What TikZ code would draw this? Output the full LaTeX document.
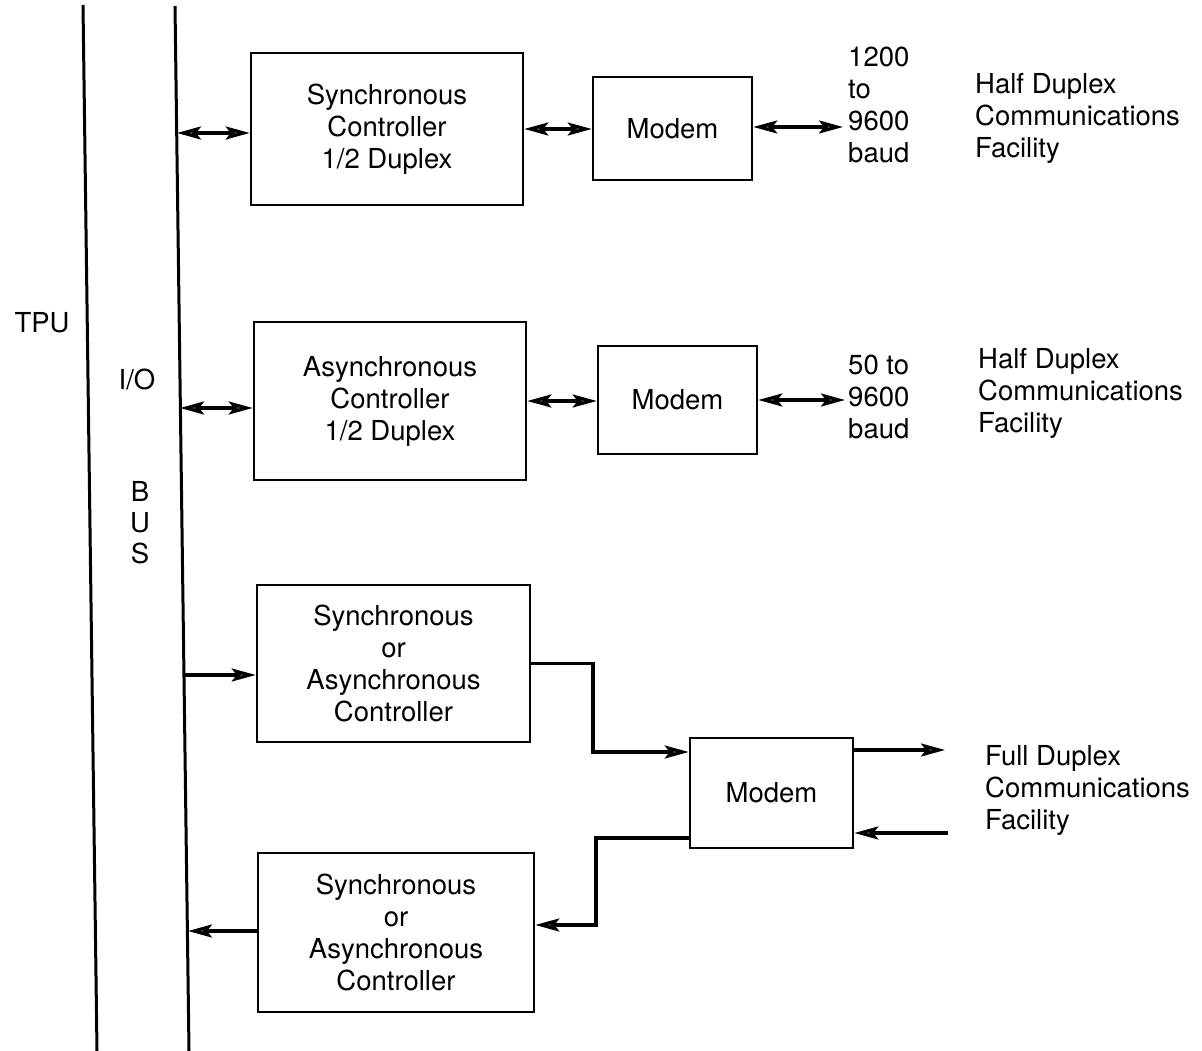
\documentclass[tikz,border=0pt]{standalone}
\usepackage{fontspec}
\setmainfont{TeX Gyre Heros}
\usetikzlibrary{arrows.meta,calc}
\begin{document}
\begin{tikzpicture}[x=1pt,y=-1pt,
  every node/.style={font=\fontsize{27.5}{32}\selectfont},
  box/.style={draw, line width=2.6pt, rectangle, align=center, inner sep=0pt},
  conn/.style={line width=3.2pt},
  arr/.tip={Stealth[length=24pt,width=13pt,inset=5pt,fill=black!50]},
  tip/.style={-arr},
  dtip/.style={arr-arr},
  lbl/.style={align=left, anchor=west, inner sep=0pt},
  bus/.style={line width=3pt}
]
\useasboundingbox (0,0) rectangle (1202,1051);
% vertical lines
\coordinate (tt) at (83,5);
\coordinate (tb) at (97,1051);
\coordinate (bt) at (175,6);
\coordinate (bb) at (189,1051);
\draw[bus] (tt) -- (tb);
\draw[bus] (bt) -- (bb);
% labels on left
\node (tpu) at (42,323) {TPU};
\node (io) at (137,380) {I/O};
\node[align=center, inner sep=0pt, font=\fontsize{27.5}{31}\selectfont] (busl) at (140,523) {B\\U\\S};
% boxes
\node[box, minimum width=272pt, minimum height=152pt] (s1) at (387,129) {Synchronous\\Controller\\1/2 Duplex};
\node[box, minimum width=159pt, minimum height=103pt] (m1) at (672.5,128.5) {Modem};
\node[box, minimum width=272pt, minimum height=158pt] (s2) at (390,401) {Asynchronous\\Controller\\1/2 Duplex};
\node[box, minimum width=159pt, minimum height=108pt] (m2) at (677.5,400) {Modem};
\node[box, minimum width=273pt, minimum height=157pt] (s3) at (393.5,663.5) {Synchronous\\or\\Asynchronous\\Controller};
\node[box, minimum width=163pt, minimum height=110pt] (m3) at (771.5,793) {Modem};
\node[box, minimum width=276pt, minimum height=159pt] (s4) at (396,932.5) {Synchronous\\or\\Asynchronous\\Controller};
% right-hand labels
\node[lbl] (r1) at (848,105) {1200\\to\\9600\\baud};
\node[lbl] (h1) at (975,118) {Half Duplex\\Communications\\Facility};
\node[lbl] (r2) at (848,397) {50 to\\9600\\baud};
\node[lbl] (h2) at (978,393) {Half Duplex\\Communications\\Facility};
\node[lbl] (f1) at (985,790) {Full Duplex\\Communications\\Facility};
% connection points
\coordinate (b1) at (177,133);
\coordinate (b2) at (180,408);
\coordinate (b3) at (184,675);
\coordinate (b4) at (188,931);
\coordinate (e1) at (843,127);
\coordinate (e2) at (845,400);
\coordinate (j1) at (593,752);
\coordinate (o1) at (945,750);
\coordinate (i1) at (948,833);
\coordinate (j2) at (596,838);
\coordinate (j4) at (596,925);
% connectors
\draw[conn, dtip] (b1) -- (b1 -| s1.west);
\draw[conn, dtip] (s1.east) -- (s1.east -| m1.west);
\draw[conn, dtip] (m1.east |- e1) -- (e1);
\draw[conn, dtip] (b2) -- (b2 -| s2.west);
\draw[conn, dtip] (s2.east) -- (s2.east -| m2.west);
\draw[conn, dtip] (m2.east |- e2) -- (e2);
\draw[conn, tip] (b3) -- (b3 -| s3.west);
\draw[conn, tip] (s3.east) -| (j1) -- (j1 -| m3.west);
\draw[conn, tip] (m3.east |- o1) -- (o1);
\draw[conn, tip] (i1) -- (i1 -| m3.east);
\draw[conn, tip] (j2 -| m3.west) -- (j2) -- (j4) -- (j4 -| s4.east);
\draw[conn, tip] (b4 -| s4.west) -- (b4);
\end{tikzpicture}
\end{document}
